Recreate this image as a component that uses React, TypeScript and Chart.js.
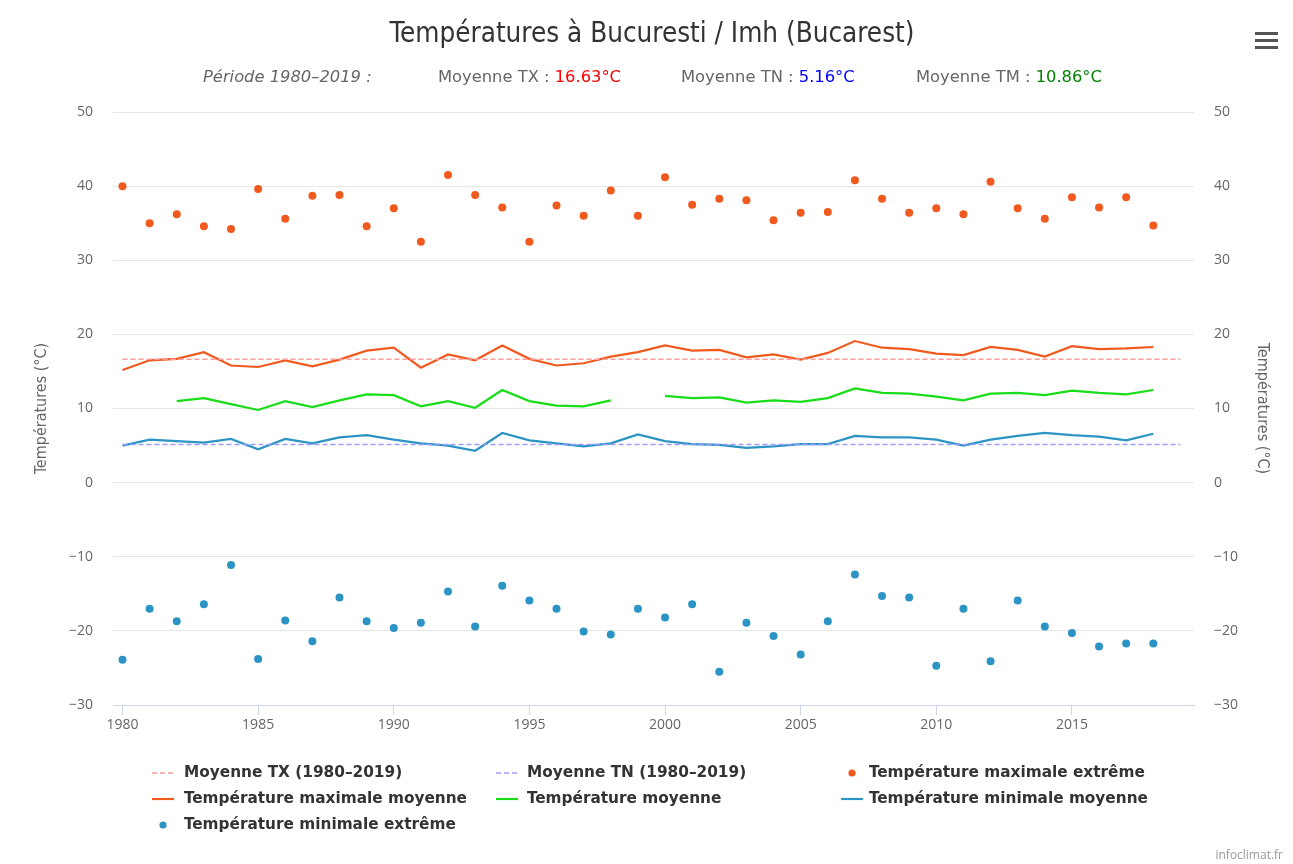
import React, { useEffect, useRef } from 'react';
import { Chart, registerables } from 'chart.js';

Chart.register(...registerables);

// ---------- data ----------
const years = [
  1980, 1981, 1982, 1983, 1984, 1985, 1986, 1987, 1988, 1989,
  1990, 1991, 1992, 1993, 1994, 1995, 1996, 1997, 1998, 1999,
  2000, 2001, 2002, 2003, 2004, 2005, 2006, 2007, 2008, 2009,
  2010, 2011, 2012, 2013, 2014, 2015, 2016, 2017, 2018,
];

const txExtreme = [
  40.0, 35.0, 36.2, 34.6, 34.2, 39.6, 35.6, 38.7, 38.8, 34.6,
  37.0, 32.5, 41.5, 38.8, 37.1, 32.5, 37.4, 36.0, 39.4, 36.0,
  41.2, 37.5, 38.3, 38.1, 35.4, 36.4, 36.5, 40.8, 38.3, 36.4,
  37.0, 36.2, 40.6, 37.0, 35.6, 38.5, 37.1, 38.5, 34.7,
];

const txMean = [
  15.2, 16.5, 16.7, 17.6, 15.8, 15.6, 16.5, 15.7, 16.6, 17.8,
  18.2, 15.5, 17.3, 16.5, 18.5, 16.7, 15.8, 16.1, 17.0, 17.6,
  18.5, 17.8, 17.9, 16.9, 17.3, 16.6, 17.5, 19.1, 18.2, 18.0,
  17.4, 17.2, 18.3, 17.9, 17.0, 18.4, 18.0, 18.1, 18.3,
];

const tmMean: (number | null)[] = [
  null, null, 11.0, 11.4, 10.6, 9.8, 11.0, 10.2, 11.1, 11.9,
  11.8, 10.3, 11.0, 10.1, 12.5, 11.0, 10.4, 10.3, 11.1, null,
  11.7, 11.4, 11.5, 10.8, 11.1, 10.9, 11.4, 12.7, 12.1, 12.0,
  11.6, 11.1, 12.0, 12.1, 11.8, 12.4, 12.1, 11.9, 12.5,
];

const tnMean = [
  5.0, 5.8, 5.6, 5.4, 5.9, 4.5, 5.9, 5.3, 6.1, 6.4,
  5.8, 5.3, 5.0, 4.3, 6.7, 5.7, 5.3, 4.9, 5.3, 6.5,
  5.6, 5.2, 5.1, 4.7, 4.9, 5.2, 5.2, 6.3, 6.1, 6.1,
  5.8, 5.0, 5.8, 6.3, 6.7, 6.4, 6.2, 5.7, 6.6,
];

const tnExtreme = [
  -23.9, -17.0, -18.7, -16.4, -11.1, -23.8, -18.6, -21.4, -15.5, -18.7,
  -19.6, -18.9, -14.7, -19.4, -13.9, -15.9, -17.0, -20.1, -20.5, -17.0,
  -18.2, -16.4, -25.5, -18.9, -20.7, -23.2, -18.7, -12.4, -15.3, -15.5,
  -24.7, -17.0, -24.1, -15.9, -19.4, -20.3, -22.1, -21.7, -21.7,
];

const meanTX = 16.63;
const meanTN = 5.16;
const meanTM = 10.86;
const periodYears = [1980, 2019];

const xTicks = [1980, 1985, 1990, 1995, 2000, 2005, 2010, 2015];
const yTicks = [-30, -20, -10, 0, 10, 20, 30, 40, 50];

const titleText = 'Températures à Bucuresti / Imh (Bucarest)';
const axisTitle = 'Températures (°C)';
const labels = [
  'Moyenne TX (1980–2019)',
  'Moyenne TN (1980–2019)',
  'Température maximale extrême',
  'Température maximale moyenne',
  'Température moyenne',
  'Température minimale moyenne',
  'Température minimale extrême',
];

// ---------- styles ----------
const FONT = '"Liberation Sans Narrow", "DejaVu Sans Condensed", "Roboto Condensed", "Noto Sans", sans-serif';
const TICK_FONT = '"Open Sans", "DejaVu Sans", sans-serif';
const ORANGE = '#f05a1e';
const BLUE = '#2c94c4';
const GREEN = '#18dd18';
const PINK = '#ff9c9c';
const LAVENDER = '#9c9cff';

const pts = (vals: (number | null)[]) => years.map((x, i) => ({ x, y: vals[i] }));
const flat = (v: number) => periodYears.map((x) => ({ x, y: v }));

function drawScaled(ctx: CanvasRenderingContext2D, text: string, x: number, y: number, sx: number) {
  ctx.save();
  ctx.translate(x, y);
  ctx.scale(sx, 1);
  ctx.fillText(text, 0, 0);
  ctx.restore();
  return ctx.measureText(text).width * sx;
}

const fmt = (v: number) => (v < 0 ? '−' + Math.abs(v) : String(v));

const decorPlugin = {
  id: 'decor',
  afterDraw(chart: any) {
    const ctx: CanvasRenderingContext2D = chart.ctx;
    ctx.save();
    ctx.textBaseline = 'middle';
    ctx.textAlign = 'left';

    // Title
    ctx.font = `28px ${FONT}`;
    ctx.fillStyle = '#333333';
    let w = ctx.measureText(titleText).width;
    let sx = Math.min(1.4, Math.max(0.6, 525 / w));
    drawScaled(ctx, titleText, 652 - (w * sx) / 2, 35, sx);

    // Subtitle
    ctx.font = `15px ${FONT}`;
    const ref = `Moyenne TX : ${meanTX.toFixed(2)}°C`;
    sx = Math.min(1.4, Math.max(0.6, 183 / ctx.measureText(ref).width));
    ctx.font = `italic 15px ${FONT}`;
    ctx.fillStyle = '#666666';
    drawScaled(ctx, 'Période 1980–2019 :', 203, 78, sx);
    ctx.font = `15px ${FONT}`;
    const groups: [string, string, string, number][] = [
      ['Moyenne TX : ', `${meanTX.toFixed(2)}°C`, '#ff0000', 438],
      ['Moyenne TN : ', `${meanTN.toFixed(2)}°C`, '#0000ff', 681],
      ['Moyenne TM : ', `${meanTM.toFixed(2)}°C`, '#008000', 916],
    ];
    groups.forEach(([a, b, col, x]) => {
      ctx.fillStyle = '#666666';
      const wa = drawScaled(ctx, a, x, 78, sx);
      ctx.fillStyle = col;
      drawScaled(ctx, b, x + wa, 78, sx);
    });

    // Legend
    ctx.font = `bold 16px ${FONT}`;
    const lsx = Math.min(1.4, Math.max(0.6, 283 / ctx.measureText(labels[3]).width));
    const symX = [163, 507, 852];
    const txtX = [184, 527, 869];
    const rowY = [773, 799, 825];
    chart.data.datasets.forEach((ds: any, i: number) => {
      const col = i % 3;
      const row = Math.floor(i / 3);
      const cx = symX[col];
      const cy = rowY[row];
      if (ds.showLine === false) {
        ctx.beginPath();
        ctx.fillStyle = ds.pointBackgroundColor;
        ctx.arc(cx, cy, 3.6, 0, Math.PI * 2);
        ctx.fill();
      } else {
        ctx.beginPath();
        ctx.strokeStyle = ds.borderColor;
        ctx.lineWidth = ds.borderWidth;
        ctx.setLineDash(ds.borderDash || []);
        ctx.moveTo(cx - 11, cy);
        ctx.lineTo(cx + 11, cy);
        ctx.stroke();
        ctx.setLineDash([]);
      }
      ctx.fillStyle = '#333333';
      drawScaled(ctx, ds.label, txtX[col], cy, lsx);
    });

    // Menu icon
    ctx.fillStyle = '#555555';
    [32, 39, 46].forEach((y) => ctx.fillRect(1255, y, 23, 3));

    // Credits
    ctx.font = `12px ${TICK_FONT}`;
    ctx.fillStyle = '#999999';
    ctx.textAlign = 'right';
    ctx.fillText('infoclimat.fr', 1283, 856);
    ctx.restore();
  },
};

export default function App() {
  const ref = useRef<HTMLCanvasElement | null>(null);

  useEffect(() => {
    if (!ref.current) return;
    const yTickCfg = {
      font: { family: TICK_FONT, size: 14 },
      color: '#666666',
      padding: 20,
      callback: (v: any) => fmt(Number(v)),
    };
    const chart = new Chart(ref.current, {
      type: 'line',
      data: {
        datasets: [
          {
            label: labels[0], data: flat(meanTX), borderColor: PINK, backgroundColor: PINK,
            borderWidth: 1.5, borderDash: [5, 3], pointRadius: 0, yAxisID: 'y',
          },
          {
            label: labels[1], data: flat(meanTN), borderColor: LAVENDER, backgroundColor: LAVENDER,
            borderWidth: 1.5, borderDash: [5, 3], pointRadius: 0, yAxisID: 'y',
          },
          {
            label: labels[2], data: pts(txExtreme), showLine: false, pointRadius: 4,
            pointBackgroundColor: ORANGE, pointBorderWidth: 0, borderColor: ORANGE, yAxisID: 'y',
          },
          {
            label: labels[3], data: pts(txMean), borderColor: ORANGE, borderWidth: 2.2,
            pointRadius: 0, tension: 0, yAxisID: 'y',
          },
          {
            label: labels[4], data: pts(tmMean), borderColor: GREEN, borderWidth: 2.2,
            pointRadius: 0, tension: 0, spanGaps: false, yAxisID: 'y',
          },
          {
            label: labels[5], data: pts(tnMean), borderColor: BLUE, borderWidth: 2.2,
            pointRadius: 0, tension: 0, yAxisID: 'y',
          },
          {
            label: labels[6], data: pts(tnExtreme), showLine: false, pointRadius: 4,
            pointBackgroundColor: BLUE, pointBorderWidth: 0, borderColor: BLUE, yAxisID: 'y',
          },
        ] as any,
      },
      options: {
        animation: false,
        responsive: true,
        maintainAspectRatio: false,
        layout: { padding: { top: 112, bottom: 119, left: 0, right: 0 } },
        plugins: { legend: { display: false }, tooltip: { enabled: false }, title: { display: false } },
        scales: {
          x: {
            type: 'linear',
            min: 1979.65,
            max: 2019.5,
            afterBuildTicks: (s: any) => { s.ticks = xTicks.map((value) => ({ value })); },
            afterFit: (s: any) => { s.height = 40; },
            ticks: {
              font: { family: TICK_FONT, size: 14 },
              color: '#666666',
              padding: 2,
              maxRotation: 0,
              callback: (v: any) => String(v),
            },
            grid: { drawOnChartArea: false, color: '#ccd6eb', tickLength: 10, drawTicks: true },
            border: { color: '#ccd6eb', width: 1 },
          },
          y: {
            type: 'linear',
            position: 'left',
            min: -30,
            max: 50,
            afterBuildTicks: (s: any) => { s.ticks = yTicks.map((value) => ({ value })); },
            afterFit: (s: any) => { s.width = 113; },
            ticks: yTickCfg,
            grid: { color: '#e6e6e6', drawTicks: false },
            border: { display: false },
            title: {
              display: true, text: axisTitle, color: '#666666',
              font: { family: FONT, size: 16 }, padding: { top: 32, bottom: 0 },
            },
          },
          y2: {
            type: 'linear',
            position: 'right',
            min: -30,
            max: 50,
            afterBuildTicks: (s: any) => { s.ticks = yTicks.map((value) => ({ value })); },
            afterFit: (s: any) => { s.width = 99; },
            ticks: yTickCfg,
            grid: { drawOnChartArea: false, drawTicks: false },
            border: { display: false },
            title: {
              display: true, text: axisTitle, color: '#666666',
              font: { family: FONT, size: 16 }, padding: { top: 21, bottom: 0 },
            },
          },
        },
      } as any,
      plugins: [decorPlugin],
    });
    return () => chart.destroy();
  }, []);

  return (
    <div style={{ position: 'fixed', left: 0, top: 0, width: 1293, height: 864, background: '#fff' }}>
      <canvas ref={ref} />
    </div>
  );
}
